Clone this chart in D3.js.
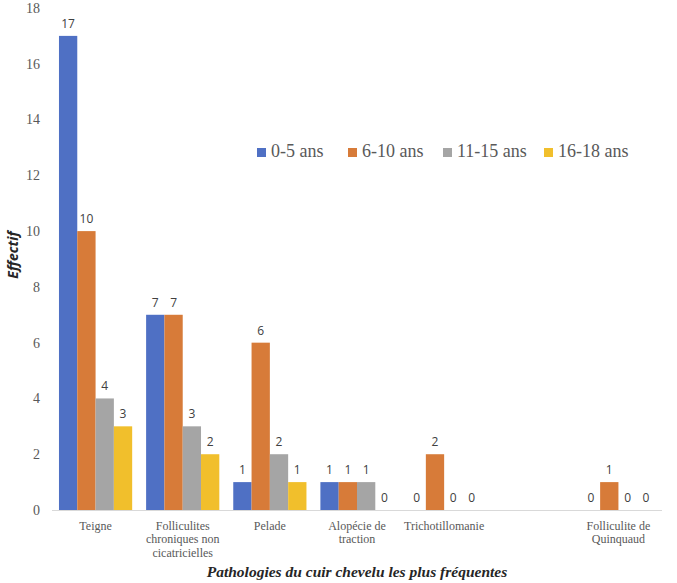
<!DOCTYPE html>
<html>
<head>
<meta charset="utf-8">
<script src="https://cdn.jsdelivr.net/npm/d3@7"></script>
<style>
  html, body { margin: 0; padding: 0; background: #fff; }
  svg { display: block; }
  .serif { font-family: "Liberation Serif", "DejaVu Serif", "Times New Roman", Times, serif; }
  .sans { font-family: "Open Sans", "Liberation Sans", sans-serif; }
</style>
</head>
<body>
<svg id="chart" width="677" height="583"></svg>
<script>
// ---- Data ----
const categories = [
  "Teigne",
  "Folliculites chroniques non cicatricielles",
  "Pelade",
  "Alopécie de traction",
  "Trichotillomanie",
  "",
  "Folliculite de Quinquaud"
];
const categoryLines = [
  ["Teigne"],
  ["Folliculites", "chroniques non", "cicatricielles"],
  ["Pelade"],
  ["Alopécie de", "traction"],
  ["Trichotillomanie"],
  [],
  ["Folliculite de", "Quinquaud"]
];
const seriesNames = ["0-5 ans", "6-10 ans", "11-15 ans", "16-18 ans"];
const s0_5   = [17, 7, 1, 1, 0, null, 0];
const s6_10  = [10, 7, 6, 1, 2, null, 1];
const s11_15 = [4, 3, 2, 1, 0, null, 0];
const s16_18 = [3, 2, 1, 0, 0, null, 0];
const seriesValues = [s0_5, s6_10, s11_15, s16_18];
const yTicks = [0, 2, 4, 6, 8, 10, 12, 14, 16, 18];
const colors = ["#4f70c4", "#d77b39", "#a5a5a5", "#f1bf2c"];

// ---- Layout ----
const svg = d3.select("#chart");
const x0 = d3.scaleBand().domain(d3.range(categories.length)).range([52, 662])
  .paddingInner(0.16).paddingOuter(0.08);
const x1 = d3.scaleBand().domain(d3.range(seriesNames.length)).range([0, x0.bandwidth()]);
const y = d3.scaleLinear().domain([0, 18]).range([510, 8]);

// y tick labels
svg.append("g").selectAll("text").data(yTicks).join("text")
  .attr("class", "serif")
  .attr("x", 40).attr("y", d => y(d)).attr("dy", "0.35em")
  .attr("text-anchor", "end")
  .attr("font-size", 14).attr("fill", "#595959")
  .text(d => d);

// bars
const flat = [];
categories.forEach((c, ci) => {
  seriesValues.forEach((s, si) => {
    if (s[ci] !== null) flat.push({ci, si, v: s[ci]});
  });
});
svg.append("g").selectAll("rect").data(flat).join("rect")
  .attr("x", d => x0(d.ci) + x1(d.si))
  .attr("width", x1.bandwidth())
  .attr("y", d => y(d.v))
  .attr("height", d => y(0) - y(d.v))
  .attr("fill", d => colors[d.si]);

// data labels
svg.append("g").selectAll("text").data(flat).join("text")
  .attr("class", "sans")
  .attr("x", d => x0(d.ci) + x1(d.si) + x1.bandwidth() / 2)
  .attr("y", d => y(d.v) - 8)
  .attr("text-anchor", "middle")
  .attr("font-size", 12).attr("fill", "#404040")
  .text(d => d.v);

// x axis line
svg.append("line")
  .attr("x1", x0.range()[0]).attr("x2", x0.range()[1])
  .attr("y1", y(0) + 0.5).attr("y2", y(0) + 0.5)
  .attr("stroke", "#d9d9d9").attr("stroke-width", 1);

// category labels
const catG = svg.append("g");
categoryLines.forEach((lines, ci) => {
  const cx = x0(ci) + x0.bandwidth() / 2;
  const t = catG.append("text")
    .attr("class", "serif")
    .attr("x", cx).attr("y", 530)
    .attr("text-anchor", "middle")
    .attr("font-size", 12).attr("fill", "#595959");
  lines.forEach((l, li) => {
    t.append("tspan").attr("x", cx).attr("dy", li === 0 ? 0 : 13.3).text(l);
  });
});

// axis titles
svg.append("text")
  .attr("class", "serif")
  .attr("x", 357).attr("y", 577)
  .attr("text-anchor", "middle")
  .attr("font-size", 15.5).attr("font-weight", "bold").attr("font-style", "italic")
  .attr("fill", "#262626")
  .text("Pathologies du cuir chevelu les plus fréquentes");

svg.append("text")
  .attr("class", "sans")
  .attr("transform", "translate(18,255) rotate(-90)")
  .attr("text-anchor", "middle")
  .attr("font-size", 14).attr("font-weight", "bold").attr("font-style", "italic")
  .attr("fill", "#262626")
  .text("Effectif");

// legend
const legendX = [257, 348, 443, 544];
const lg = svg.append("g");
seriesNames.forEach((n, i) => {
  lg.append("rect").attr("x", legendX[i]).attr("y", 148)
    .attr("width", 9).attr("height", 9).attr("fill", colors[i]);
  lg.append("text").attr("class", "serif")
    .attr("x", legendX[i] + 14).attr("y", 157)
    .attr("font-size", 18).attr("fill", "#595959")
    .text(n);
});
</script>
</body>
</html>
